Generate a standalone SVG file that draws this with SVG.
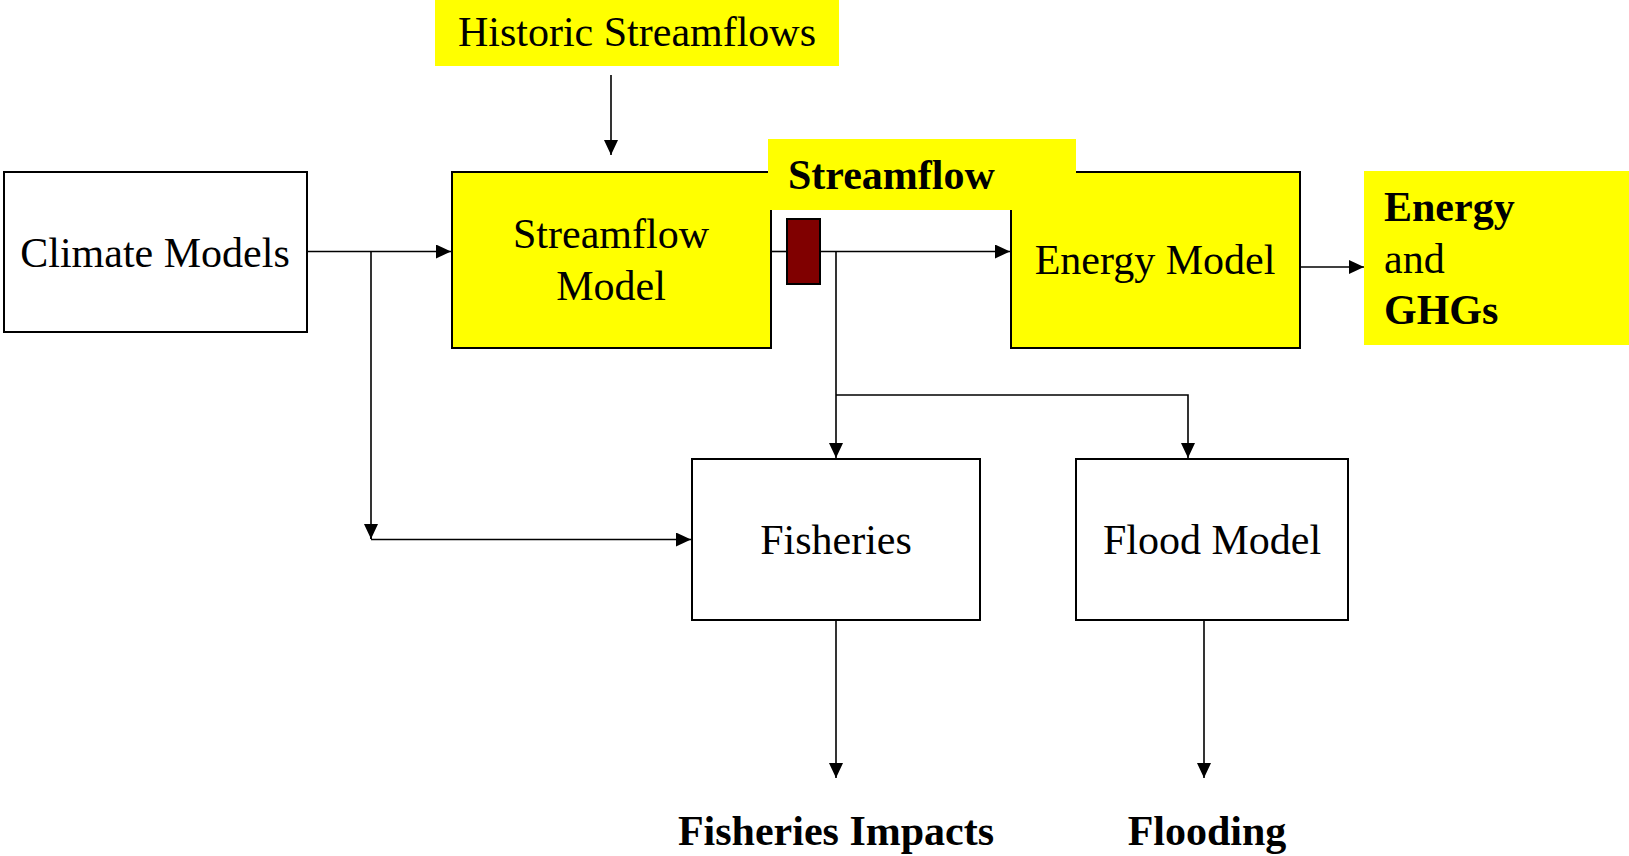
<svg xmlns="http://www.w3.org/2000/svg" width="1629" height="856" viewBox="0 0 1629 856">
<defs>
<style>
.box{stroke:#000;stroke-width:2;}
.white{fill:#fff;}
.yellow{fill:#ffff00;}
.lbl{fill:#ffff00;stroke:none;}
.t{font-family:"Liberation Serif","Times New Roman",serif;font-size:42px;fill:#000;}
.b{font-weight:bold;}
.c{text-anchor:middle;}
.ln{fill:none;stroke:#000;stroke-width:1.6;}
</style>
<marker id="ah" viewBox="0 0 15 14" refX="15" refY="7" markerWidth="15" markerHeight="14" markerUnits="userSpaceOnUse" orient="auto">
<path d="M0,0 L15,7 L0,14 Z" fill="#000"/>
</marker>
</defs>
<rect width="1629" height="856" fill="#fff"/>

<g id="historic">
<rect class="lbl" x="435" y="0" width="404" height="66"/>
<text class="t c" x="637" y="46">Historic Streamflows</text>
</g>

<g id="climate">
<rect class="box white" x="4" y="172" width="303" height="160"/>
<text class="t c" x="155" y="267">Climate Models</text>
</g>

<g id="streamflow-model">
<rect class="box yellow" x="452" y="172" width="319" height="176"/>
<text class="t c" x="611" y="248">Streamflow</text>
<text class="t c" x="611" y="300">Model</text>
</g>

<g id="energy-model">
<rect class="box yellow" x="1011" y="172" width="289" height="176"/>
<text class="t c" x="1155" y="274">Energy Model</text>
</g>

<g id="streamflow-label">
<rect class="lbl" x="768" y="139" width="308" height="71"/>
<rect class="white" x="772" y="210" width="238" height="137"/>
<text class="t b" x="788" y="189">Streamflow</text>
</g>

<g id="energy-ghgs">
<rect class="lbl" x="1364" y="171" width="265" height="174"/>
<text class="t b" x="1384" y="221">Energy</text>
<text class="t" x="1384" y="273">and</text>
<text class="t b" x="1384" y="324">GHGs</text>
</g>

<g id="fisheries">
<rect class="box white" x="692" y="459" width="288" height="161"/>
<text class="t c" x="836" y="554">Fisheries</text>
</g>

<g id="flood">
<rect class="box white" x="1076" y="459" width="272" height="161"/>
<text class="t c" x="1212" y="554">Flood Model</text>
</g>

<g id="fisheries-impacts">
<text class="t b c" x="836" y="845">Fisheries Impacts</text>
</g>

<g id="flooding">
<text class="t b c" x="1207" y="845">Flooding</text>
</g>

<g id="connectors">
<line class="ln" x1="611" y1="75" x2="611" y2="155" marker-end="url(#ah)"/>
<line class="ln" x1="307" y1="251.5" x2="451" y2="251.5" marker-end="url(#ah)"/>
<polyline class="ln" points="371,251.5 371,539"/>
<line class="ln" x1="371" y1="525" x2="371" y2="539" marker-end="url(#ah)"/>
<line class="ln" x1="371" y1="539.5" x2="691" y2="539.5" marker-end="url(#ah)"/>
<line class="ln" x1="771" y1="251.5" x2="787" y2="251.5"/>
<line class="ln" x1="820" y1="251.5" x2="1010" y2="251.5" marker-end="url(#ah)"/>
<line class="ln" x1="836" y1="251.5" x2="836" y2="458" marker-end="url(#ah)"/>
<polyline class="ln" points="836,395 1188,395 1188,458" marker-end="url(#ah)"/>
<line class="ln" x1="1300" y1="267" x2="1364" y2="267" marker-end="url(#ah)"/>
<line class="ln" x1="836" y1="620" x2="836" y2="778" marker-end="url(#ah)"/>
<line class="ln" x1="1204" y1="620" x2="1204" y2="778" marker-end="url(#ah)"/>
</g>

<g id="gate">
<rect x="787" y="219" width="33" height="65" fill="#800000" stroke="#000" stroke-width="2"/>
</g>
</svg>
